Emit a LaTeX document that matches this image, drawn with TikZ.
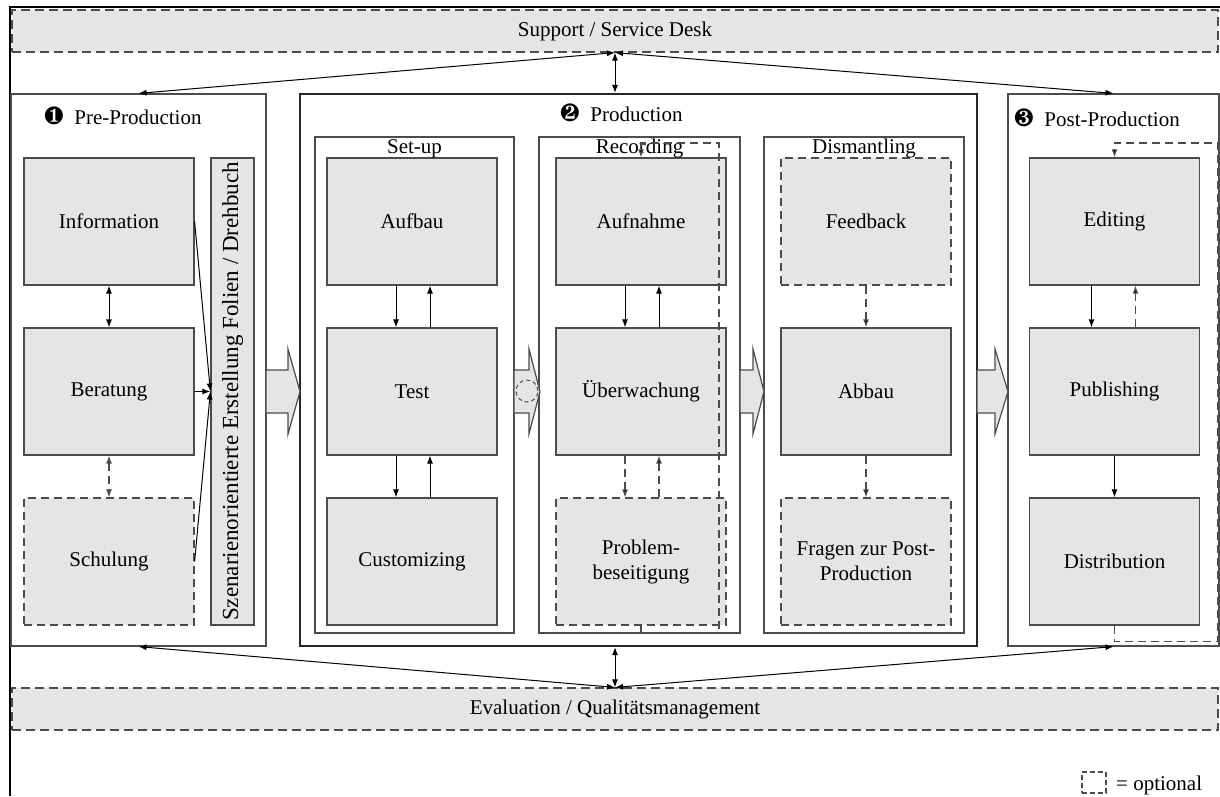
\documentclass[tikz,border=0pt]{standalone}
\usepackage{fontspec}
\setmainfont{Liberation Serif}
\usepackage{pifont}
\usetikzlibrary{arrows.meta}

\begin{document}
\begin{tikzpicture}[x=1pt,y=-1pt,>={Latex[length=8pt,width=6pt]},font=\fontsize{21}{25}\selectfont]
\tikzstyle{box}=[rectangle,draw=black!70,line width=1.2pt,fill=black!10,minimum width=170pt,minimum height=127pt,inner sep=0pt,align=center]
\tikzstyle{optbox}=[box,dash pattern=on 8pt off 5pt]
\tikzstyle{bar}=[rectangle,draw=black!70,line width=1.2pt,fill=black!10,dash pattern=on 9pt off 5pt,minimum width=1206pt,minimum height=42pt,inner sep=0pt]
\tikzstyle{phase}=[rectangle,draw=black!70,line width=1.2pt,minimum height=552pt,inner sep=0pt]
\tikzstyle{stage}=[rectangle,draw=black!70,line width=1.2pt,minimum width=200pt,minimum height=496pt,inner sep=0pt]
\tikzstyle{title}=[inner sep=0pt]
\tikzstyle{link}=[line width=1pt,black]
\tikzstyle{optlink}=[line width=1.2pt,draw=black!70,dash pattern=on 8pt off 5pt,arrows={-{Latex[length=8pt,width=6pt,fill=black]}}]
\tikzstyle{bigarrow}=[draw=black!70,line width=1.2pt,fill=black!10]

\useasboundingbox (0,0) rectangle (1220,796);
\fill[white] (0,0) rectangle (1220,796);
\draw[line width=2.5pt] (10,796) -- (10,7) -- (1220,7);

% support and evaluation
\node[bar] (support) at (615,31) {Support / Service Desk};
\node[bar] (eval) at (615,709) {Evaluation / Qualitätsmanagement};

% phases
\node[phase,minimum width=255pt] (pre) at (138.5,370) {};
\node[phase,minimum width=677pt,line width=2.2pt,draw=black!85] (prod) at (638.5,370) {};
\node[phase,minimum width=211pt] (post) at (1113.5,370) {};

\node[title,anchor=base west] (preT) at (44,124) {{\fontsize{25}{25}\selectfont\ding{182}}\hspace{0.5em}Pre-Production};
\node[title,anchor=base west] (prodT) at (560,121) {{\fontsize{25}{25}\selectfont\ding{183}}\hspace{0.5em}Production};
\node[title,anchor=base west] (postT) at (1014,126) {{\fontsize{25}{25}\selectfont\ding{184}}\hspace{0.5em}Post-Production};

% production stages
\node[stage,minimum width=199pt] (setup) at (414.5,385) {};
\node[stage,minimum width=201pt] (rec) at (639.5,385) {};
\node[stage] (dis) at (864,385) {};

% pre-production
\node[box] (info) at (109,221.5) {Information};
\node[box] (ber) at (109,391.5) {Beratung};
\node[optbox] (schul) at (109,561.5) {Schulung};
\node[box,rotate=90,minimum width=467pt,minimum height=43pt,font=\fontsize{23}{27}\selectfont] (szen) at (232.5,391.5) {Szenarienorientierte Erstellung Folien / Drehbuch};

% set-up
\node[box] (aufbau) at (412,221.5) {Aufbau};
\node[box] (test) at (412,391.5) {Test};
\node[box] (cust) at (412,561.5) {Customizing};

% recording
\node[box] (aufn) at (641,221.5) {Aufnahme};
\node[box] (ueber) at (641,391.5) {Überwachung};
\node[optbox] (prob) at (641,561.5) {Problem-\\beseitigung};

% dismantling
\node[optbox] (feed) at (866,221.5) {Feedback};
\node[box] (abbau) at (866,391.5) {Abbau};
\node[optbox] (fragen) at (866,561.5) {Fragen zur Post-\\Production};

% post-production
\node[box] (edit) at (1114.5,221.5) {Editing};
\node[box] (publ) at (1114.5,391.5) {Publishing};
\node[box] (distr) at (1114.5,561.5) {Distribution};

\node[title,anchor=base] (setupT) at (414.5,153) {Set-up};
\node[title,anchor=base] (recT) at (639.5,153) {Recording};
\node[title,anchor=base] (disT) at (864,153) {Dismantling};

% links pre-production
\draw[link,<->] (info) -- (ber);
\draw[optlink,<->] (ber) -- (schul);
\draw[link,->] (info.east) -- (szen.north);
\draw[link,->] (ber) -- (szen.north);
\draw[link,->] (schul.east) -- (szen.north);

% links set-up
\draw[link,->] ([xshift=-16pt]aufbau.south) -- ([xshift=-16pt]test.north);
\draw[link,->] ([xshift=18pt]test.north) -- ([xshift=18pt]aufbau.south);
\draw[link,->] ([xshift=-16pt]test.south) -- ([xshift=-16pt]cust.north);
\draw[link,->] ([xshift=18pt]cust.north) -- ([xshift=18pt]test.south);

% links recording
\draw[link,->] ([xshift=-16pt]aufn.south) -- ([xshift=-16pt]ueber.north);
\draw[link,->] ([xshift=18pt]ueber.north) -- ([xshift=18pt]aufn.south);
\draw[optlink] ([xshift=-16pt]ueber.south) -- ([xshift=-16pt]prob.north);
\draw[optlink] ([xshift=18pt]prob.north) -- ([xshift=18pt]ueber.south);
\coordinate (recR) at (719,143);
\draw[optlink] (prob.south) -- ++(0,8) -| (recR) -| (aufn.north);

% links dismantling
\draw[optlink] (feed) -- (abbau);
\draw[optlink] (abbau) -- (fragen);

% links post-production
\draw[link,->] ([xshift=-23pt]edit.south) -- ([xshift=-23pt]publ.north);
\draw[optlink] ([xshift=21pt]publ.north) -- ([xshift=21pt]edit.south);
\draw[link,->] (publ) -- (distr);
\coordinate (postR) at (1218,143);
\draw[optlink] (distr.south) -- ++(0,16) -| (postR) -| (edit.north);

% support / evaluation links
\draw[link,<->] (support.south) -- (pre.north);
\draw[link,<->] (support.south) -- (prod.north -| support.south);
\draw[link,<->] (support.south) -- (post.north);
\draw[link,<->] (eval.north) -- (pre.south);
\draw[link,<->] (eval.north) -- (prod.south -| eval.north);
\draw[link,<->] (eval.north) -- (post.south);

% block arrows
\foreach \a/\b/\c in {266/288/300, 514/529/540, 740/753/764, 977/995/1008}
  \draw[bigarrow] (\a,370) -- (\b,370) -- (\b,349) -- (\c,391.5) -- (\b,434) -- (\b,413) -- (\a,413) -- cycle;
\node[circle,draw=black!70,line width=1pt,dash pattern=on 4pt off 3pt,minimum size=22pt,inner sep=0pt] (optmark) at (527,391) {};

% legend
\node[rectangle,draw=black!70,line width=1.2pt,dash pattern=on 5pt off 3pt,minimum width=24pt,minimum height=21pt,inner sep=0pt] (legbox) at (1094,782.5) {};
\node[title,anchor=base west] (legtxt) at (1116,790) {= optional};

\end{tikzpicture}
\end{document}
